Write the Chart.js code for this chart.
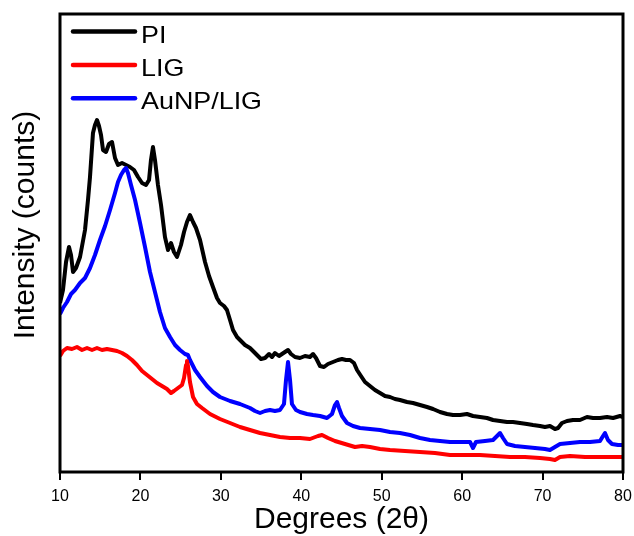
<!DOCTYPE html>
<html>
<head>
<meta charset="utf-8">
<script src="https://cdn.jsdelivr.net/npm/chart.js@4/dist/chart.umd.min.js"></script>
<style>
  html, body { margin: 0; padding: 0; background: #ffffff; }
  #wrap { width: 634px; height: 536px; position: relative; }
</style>
</head>
<body>
<div id="wrap"><canvas id="c" width="634" height="536"></canvas></div>
<script>
// ---- data (2θ in degrees, intensity in arbitrary counts) ----
const seriesNames = ["PI", "LIG", "AuNP/LIG"];
const seriesColors = ["#000000", "#ff0000", "#0000ff"];
const xTicks = [10, 20, 30, 40, 50, 60, 70, 80];

const degPI = [10.0,10.37,10.75,11.12,11.37,11.62,11.99,12.49,13.11,13.48,13.73,14.10,14.35,14.60,14.85,15.10,15.35,15.72,16.09,16.47,16.84,17.21,17.71,18.21,18.70,19.20,19.70,20.20,20.69,21.07,21.31,21.56,21.81,22.18,22.56,23.05,23.43,23.80,24.17,24.55,25.04,25.42,25.79,26.16,26.54,26.91,27.41,28.03,28.53,29.02,29.52,29.89,30.39,30.76,31.14,31.51,32.01,32.38,33.00,33.62,34.12,34.49,34.99,35.49,35.99,36.36,36.73,37.23,37.60,37.97,38.35,38.72,39.22,39.84,40.46,41.08,41.46,41.83,42.33,42.82,43.32,43.94,44.56,45.06,45.56,46.06,46.55,46.93,47.42,47.92,48.54,49.16,49.79,50.41,51.03,51.65,52.27,53.14,53.89,54.76,55.63,56.38,57.25,58.12,58.86,59.73,60.60,61.35,62.22,63.09,63.84,64.71,65.58,66.32,67.19,68.06,68.81,69.68,70.30,70.92,71.54,71.92,72.41,73.04,73.78,74.65,75.52,76.27,77.14,78.01,78.76,79.63,80.0];
const intPI = [169,182,210,225,217,200,204,215,242,272,295,339,347,352,346,337,322,320,328,330,314,307,309,307,305,302,295,289,287,292,312,325,312,287,267,235,222,229,220,215,227,240,250,257,250,244,232,210,196,185,174,169,166,162,152,142,135,132,127,124,120,117,113,114,118,115,119,116,118,120,122,118,115,114,116,115,118,114,106,105,108,110,112,113,112,112,109,102,96,90,86,82,79,76,75,73,72,70,69,67,65,63,60,58,57,57,58,56,55,54,52,51,50,50,49,48,47,46,45,46,43,44,49,51,52,52,55,54,54,55,54,56,55];

const degLIG = [10.0,10.37,10.87,11.49,12.11,12.74,13.36,13.98,14.60,15.22,15.84,16.47,17.09,17.71,18.33,18.95,19.57,20.20,20.82,21.44,22.06,22.68,23.30,23.80,24.17,24.67,25.17,25.42,25.67,25.79,25.91,26.16,26.54,27.03,27.66,28.65,29.89,31.14,32.38,33.62,34.87,36.11,37.35,38.60,39.84,41.08,42.08,42.58,43.32,44.19,45.43,46.68,47.55,48.54,49.79,51.03,52.89,54.76,56.62,58.49,60.35,62.22,64.08,65.95,67.81,69.68,70.92,71.54,72.17,73.41,75.28,77.14,78.63,80.0];
const intLIG = [116,121,124,123,125,122,124,122,124,122,123,122,121,119,116,112,107,101,97,93,89,86,83,79,81,84,87,94,107,111,106,90,75,68,64,58,53,49,45,42,39,37,35,34,34,33,36,37,34,31,28,25,26,25,23,22,21,20,19,17,17,17,16,15,15,14,13,12,15,16,15,15,15,15];

const degAu = [10.0,10.37,10.87,11.37,11.86,12.49,13.11,13.73,14.35,14.97,15.60,16.22,16.84,17.21,17.58,17.96,18.21,18.45,18.83,19.33,19.95,20.57,21.19,21.81,22.43,23.05,23.68,24.30,24.92,25.54,25.91,26.16,26.79,27.41,28.28,29.02,29.89,31.14,32.38,33.62,34.24,34.87,35.49,36.11,36.73,37.35,37.85,38.10,38.35,38.60,38.84,39.34,39.84,40.71,41.46,42.33,43.20,43.82,44.19,44.44,44.69,45.06,45.68,46.43,47.30,48.54,49.79,51.03,52.27,53.52,54.76,56.00,57.25,58.49,59.73,60.98,61.35,61.72,62.84,63.84,64.34,64.71,65.08,65.58,66.57,67.81,69.06,70.30,70.92,71.54,72.17,73.41,74.65,75.90,77.14,77.52,77.76,78.13,78.63,79.38,80.0];
const intAu = [158,164,170,178,182,189,194,204,217,232,246,262,279,290,297,302,304,299,287,272,249,225,200,180,160,144,135,127,122,118,117,112,102,95,86,80,75,71,68,64,61,59,61,62,61,62,68,92,110,92,68,62,60,58,57,56,54,58,67,70,64,56,49,46,44,43,42,40,39,37,34,32,31,30,30,30,24,30,31,32,36,39,34,28,26,25,24,23,22,25,28,29,30,30,31,36,39,32,28,27,27];

const xMin = 10, xMax = 80, yMin = 0, yMax = 458;

function toPoints(xs, ys) {
  const n = Math.min(xs.length, ys.length);
  const out = [];
  for (let i = 0; i < n; i++) out.push({ x: xs[i], y: ys[i] });
  return out;
}

const FONT = '"Liberation Sans", Arial, sans-serif';

const framePlugin = {
  id: 'frame',
  afterDatasetsDraw(chart) {
    const { ctx, chartArea: a } = chart;
    const xs = chart.scales.x;
    ctx.save();
    ctx.strokeStyle = '#000';
    ctx.lineWidth = 3;
    ctx.strokeRect(a.left, a.top, a.right - a.left, a.bottom - a.top);
    // outward tick marks along the bottom axis
    ctx.lineWidth = 2;
    xTicks.forEach(v => {
      const px = Math.round(xs.getPixelForValue(v));
      ctx.beginPath();
      ctx.moveTo(px, a.bottom);
      ctx.lineTo(px, a.bottom + 8);
      ctx.stroke();
    });
    ctx.restore();
  }
};

const legendPlugin = {
  id: 'insideLegend',
  afterDraw(chart) {
    const { ctx, chartArea: a } = chart;
    ctx.save();
    ctx.textBaseline = 'alphabetic';
    ctx.textAlign = 'left';
    chart.data.datasets.forEach((ds, i) => {
      const yLine = a.top + 17.5 + i * 33.4;
      ctx.strokeStyle = ds.borderColor;
      ctx.lineWidth = 4.5;
      ctx.lineCap = 'round';
      ctx.beginPath();
      ctx.moveTo(a.left + 13, yLine);
      ctx.lineTo(a.left + 75, yLine);
      ctx.stroke();
      ctx.fillStyle = '#000';
      ctx.save();
      ctx.translate(a.left + 81, yLine + 11);
      ctx.scale(1.12, 1);
      ctx.font = '24px ' + FONT;
      ctx.fillText(ds.label, 0, 0);
      ctx.restore();
    });
    ctx.restore();
  }
};

const yTitlePlugin = {
  id: 'yTitle',
  afterDraw(chart) {
    const { ctx } = chart;
    ctx.save();
    ctx.translate(25.5, 225);
    ctx.rotate(-Math.PI / 2);
    ctx.font = '30px ' + FONT;
    ctx.fillStyle = '#000';
    ctx.textAlign = 'center';
    ctx.textBaseline = 'middle';
    ctx.fillText('Intensity (counts)', 0, 0);
    ctx.restore();
  }
};

const order = [3, 1, 2];
const datasets = [
  toPoints(degPI, intPI),
  toPoints(degLIG, intLIG),
  toPoints(degAu, intAu)
].map((pts, i) => ({
  label: seriesNames[i],
  data: pts,
  borderColor: seriesColors[i],
  backgroundColor: seriesColors[i],
  borderWidth: 4,
  pointRadius: 0,
  tension: 0,
  order: order[i],
  borderJoinStyle: 'round'
}));

new Chart(document.getElementById('c'), {
  type: 'line',
  data: { datasets },
  plugins: [framePlugin, legendPlugin, yTitlePlugin],
  options: {
    responsive: false,
    animation: false,
    devicePixelRatio: 1,
    layout: { padding: { left: 0, top: 14, right: 11, bottom: 0 } },
    plugins: { legend: { display: false }, tooltip: { enabled: false } },
    scales: {
      x: {
        type: 'linear',
        min: xMin, max: xMax,
        afterFit(s) { s.height = 64; s.paddingLeft = 0; s.paddingRight = 0; },
        afterBuildTicks(s) { s.ticks = xTicks.map(v => ({ value: v })); },
        border: { display: false },
        grid: {
          display: true, drawOnChartArea: false, drawTicks: true,
          tickLength: 8, tickWidth: 2, tickColor: '#000', color: '#000', lineWidth: 2
        },
        ticks: {
          font: { family: FONT, size: 16 },
          color: '#000',
          padding: 7,
          maxRotation: 0
        },
        title: {
          display: true,
          text: 'Degrees (2θ)',
          font: { family: FONT, size: 30, lineHeight: 1.2 },
          color: '#000',
          padding: { top: 0, bottom: -2 }
        }
      },
      y: {
        type: 'linear',
        min: yMin, max: yMax,
        afterFit(s) { s.width = 60; s.paddingTop = 0; s.paddingBottom = 0; },
        border: { display: false },
        grid: { display: false },
        ticks: { display: false }
      }
    }
  }
});
</script>
</body>
</html>
